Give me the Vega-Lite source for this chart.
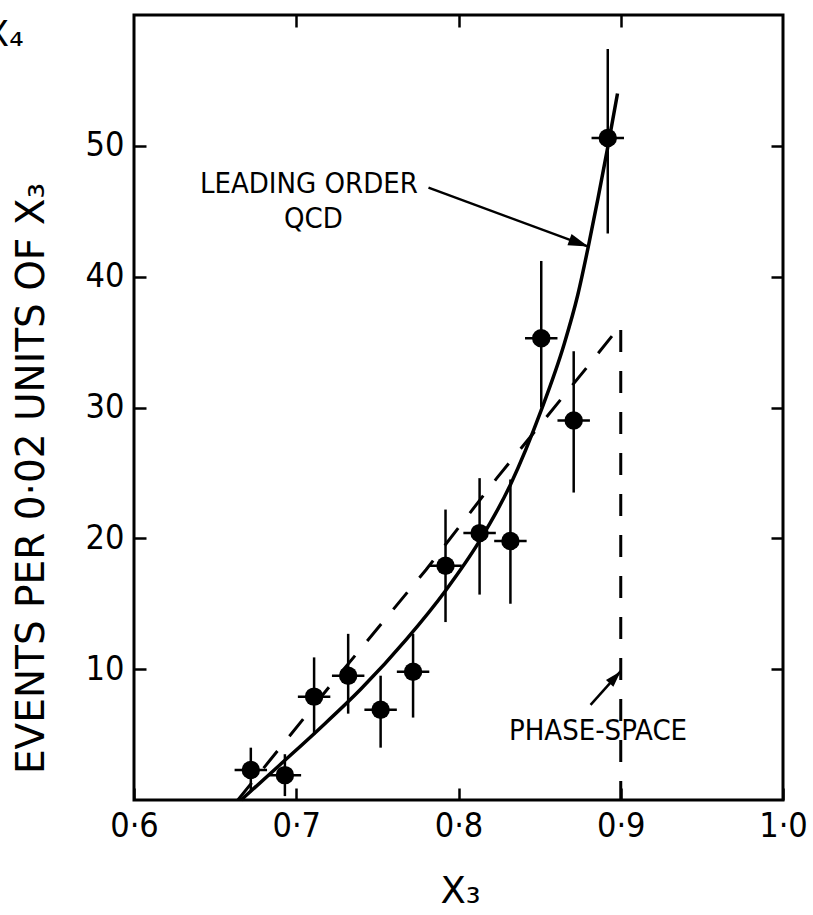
{
  "$schema": "https://vega.github.io/schema/vega-lite/v6.json",
  "width": 649,
  "height": 785,
  "autosize": {"type": "none"},
  "padding": {"left": 134, "top": 15, "right": 30, "bottom": 115},
  "background": "white",
  "config": {
    "view": {"stroke": "black", "strokeWidth": 3},
    "font": "DejaVu Sans Condensed, DejaVu Sans",
    "axis": {
      "domain": false,
      "grid": false,
      "tickColor": "black",
      "tickWidth": 2.5,
      "labelColor": "black",
      "titleColor": "black",
      "labelFont": "DejaVu Sans Condensed, DejaVu Sans",
      "titleFont": "DejaVu Sans",
      "titleFontWeight": "normal"
    }
  },
  "datasets": {
    "points": [
      {"x": 0.672, "y": 2.3, "ylo": 0.6, "yhi": 4.0, "xlo": 0.662, "xhi": 0.682},
      {"x": 0.693, "y": 1.9, "ylo": 0.3, "yhi": 3.5, "xlo": 0.683, "xhi": 0.703},
      {"x": 0.711, "y": 7.9, "ylo": 5.0, "yhi": 10.9, "xlo": 0.701, "xhi": 0.721},
      {"x": 0.732, "y": 9.5, "ylo": 6.6, "yhi": 12.7, "xlo": 0.722, "xhi": 0.742},
      {"x": 0.752, "y": 6.9, "ylo": 4.0, "yhi": 9.5, "xlo": 0.742, "xhi": 0.762},
      {"x": 0.772, "y": 9.8, "ylo": 6.3, "yhi": 12.7, "xlo": 0.762, "xhi": 0.782},
      {"x": 0.792, "y": 17.9, "ylo": 13.6, "yhi": 22.2, "xlo": 0.782, "xhi": 0.802},
      {"x": 0.813, "y": 20.4, "ylo": 15.7, "yhi": 24.6, "xlo": 0.803, "xhi": 0.823},
      {"x": 0.832, "y": 19.8, "ylo": 15.0, "yhi": 24.5, "xlo": 0.822, "xhi": 0.842},
      {"x": 0.851, "y": 35.3, "ylo": 30.0, "yhi": 41.2, "xlo": 0.841, "xhi": 0.861},
      {"x": 0.871, "y": 29.0, "ylo": 23.5, "yhi": 34.3, "xlo": 0.861, "xhi": 0.881},
      {"x": 0.892, "y": 50.6, "ylo": 43.3, "yhi": 57.4, "xlo": 0.882, "xhi": 0.902}
    ],
    "qcd": [
      {"x": 0.666, "y": 0},
      {"x": 0.69, "y": 2.7},
      {"x": 0.713, "y": 5.3},
      {"x": 0.74, "y": 8.5},
      {"x": 0.768, "y": 12.3},
      {"x": 0.792, "y": 16.0},
      {"x": 0.813, "y": 19.8},
      {"x": 0.832, "y": 24.1},
      {"x": 0.851, "y": 29.8},
      {"x": 0.865, "y": 34.8},
      {"x": 0.8735, "y": 38.6},
      {"x": 0.88, "y": 42.3},
      {"x": 0.886, "y": 46.0},
      {"x": 0.892, "y": 49.9},
      {"x": 0.898, "y": 54.0}
    ],
    "phase": [
      {"i": 1, "x": 0.664, "y": 0},
      {"i": 2, "x": 0.72, "y": 8.6},
      {"i": 3, "x": 0.78, "y": 17.6},
      {"i": 4, "x": 0.8236, "y": 24.6},
      {"i": 5, "x": 0.88, "y": 33.2},
      {"i": 6, "x": 0.9, "y": 36.3},
      {"i": 7, "x": 0.9, "y": 0}
    ],
    "arrows": [
      {"a": "qcd", "x": 0.7815, "y": 46.8},
      {"a": "qcd", "x": 0.880, "y": 42.3},
      {"a": "ps", "x": 0.8814, "y": 7.27},
      {"a": "ps", "x": 0.9, "y": 9.85}
    ],
    "labels": [
      {"x": 0.7078, "y": 47.07, "t": "LEADING ORDER"},
      {"x": 0.7106, "y": 44.4, "t": "QCD"},
      {"x": 0.886, "y": 5.3, "t": "PHASE-SPACE"}
    ]
  },
  "layer": [
    {
      "data": {"name": "points"},
      "mark": {"type": "rule", "strokeWidth": 2.5, "color": "black"},
      "encoding": {
        "x": {
          "field": "x", "type": "quantitative",
          "scale": {"domain": [0.6, 1.0], "nice": false, "zero": false},
          "axis": {
            "orient": "bottom",
            "values": [0.6, 0.7, 0.8, 0.9, 1.0],
            "labelExpr": "replace(format(datum.value, '.1f'), '.', '·')",
            "tickSize": -12,
            "labelPadding": 21,
            "labelFontSize": 34,
            "labelFlush": false,
            "labelBaseline": "top",
            "title": "X₃",
            "titleFontSize": 37,
            "titleBaseline": "alphabetic",
            "titleX": 326,
            "titleY": 102
          }
        },
        "y": {
          "field": "ylo", "type": "quantitative",
          "scale": {"domain": [0, 60], "nice": false},
          "axis": {
            "orient": "left",
            "values": [10, 20, 30, 40, 50],
            "tickSize": -12,
            "labelPadding": 22,
            "labelFontSize": 34,
            "labelBaseline": "middle",
            "title": "EVENTS PER 0·02 UNITS OF X₃",
            "titleFontSize": 39,
            "titleAngle": -90,
            "titleAlign": "center",
            "titleBaseline": "middle",
            "titleX": -103,
            "titleY": 463
          }
        },
        "y2": {"field": "yhi"}
      }
    },
    {
      "data": {"name": "points"},
      "mark": {"type": "rule", "strokeWidth": 2.5, "color": "black"},
      "encoding": {
        "x": {
          "field": "xlo", "type": "quantitative",
          "axis": {
            "orient": "top",
            "values": [0.7, 0.8, 0.9],
            "tickSize": -12,
            "labels": false,
            "title": null
          }
        },
        "x2": {"field": "xhi"},
        "y": {
          "field": "y", "type": "quantitative",
          "axis": {
            "orient": "right",
            "values": [10, 20, 30, 40, 50],
            "tickSize": -12,
            "labels": false,
            "title": null
          }
        }
      }
    },
    {
      "data": {"name": "points"},
      "mark": {"type": "point", "shape": "circle", "filled": true, "color": "black", "opacity": 1, "size": 340},
      "encoding": {
        "x": {"field": "x", "type": "quantitative", "axis": null},
        "y": {"field": "y", "type": "quantitative", "axis": null}
      }
    },
    {
      "data": {"name": "qcd"},
      "mark": {"type": "line", "color": "black", "strokeWidth": 3.5, "interpolate": "monotone"},
      "encoding": {
        "x": {"field": "x", "type": "quantitative", "axis": null},
        "y": {"field": "y", "type": "quantitative", "axis": null}
      }
    },
    {
      "data": {"name": "phase"},
      "mark": {"type": "line", "color": "black", "strokeWidth": 3, "strokeDash": [22, 19]},
      "encoding": {
        "x": {"field": "x", "type": "quantitative", "axis": null},
        "y": {"field": "y", "type": "quantitative", "axis": null},
        "order": {"field": "i", "type": "quantitative"}
      }
    },
    {
      "data": {"name": "arrows"},
      "mark": {"type": "line", "color": "black", "strokeWidth": 2.5},
      "encoding": {
        "x": {"field": "x", "type": "quantitative", "axis": null},
        "y": {"field": "y", "type": "quantitative", "axis": null},
        "detail": {"field": "a", "type": "nominal"}
      }
    },
    {
      "data": {"values": [{"x": 0.880, "y": 42.3}]},
      "mark": {"type": "point", "shape": "M0,0 L-1,-0.3 L-1,0.3 Z", "filled": true, "color": "black", "opacity": 1, "size": 1600, "angle": 20},
      "encoding": {
        "x": {"field": "x", "type": "quantitative", "axis": null},
        "y": {"field": "y", "type": "quantitative", "axis": null}
      }
    },
    {
      "data": {"values": [{"x": 0.9, "y": 9.85}]},
      "mark": {"type": "point", "shape": "M0,0 L-1,-0.3 L-1,0.3 Z", "filled": true, "color": "black", "opacity": 1, "size": 1100, "angle": -48},
      "encoding": {
        "x": {"field": "x", "type": "quantitative", "axis": null},
        "y": {"field": "y", "type": "quantitative", "axis": null}
      }
    },
    {
      "data": {"name": "labels"},
      "mark": {"type": "text", "fontSize": 29, "align": "center", "baseline": "middle", "color": "black", "font": "DejaVu Sans Condensed, DejaVu Sans"},
      "encoding": {
        "x": {"field": "x", "type": "quantitative", "axis": null},
        "y": {"field": "y", "type": "quantitative", "axis": null},
        "text": {"field": "t"}
      }
    },
    {
      "data": {"values": [{"x": 0.532, "y": 58.5, "t": "X₄"}]},
      "mark": {"type": "text", "fontSize": 36, "align": "right", "baseline": "middle", "color": "black", "font": "DejaVu Sans"},
      "encoding": {
        "x": {"field": "x", "type": "quantitative", "axis": null},
        "y": {"field": "y", "type": "quantitative", "axis": null},
        "text": {"field": "t"}
      }
    }
  ],
  "resolve": {"axis": {"x": "independent", "y": "independent"}}
}
